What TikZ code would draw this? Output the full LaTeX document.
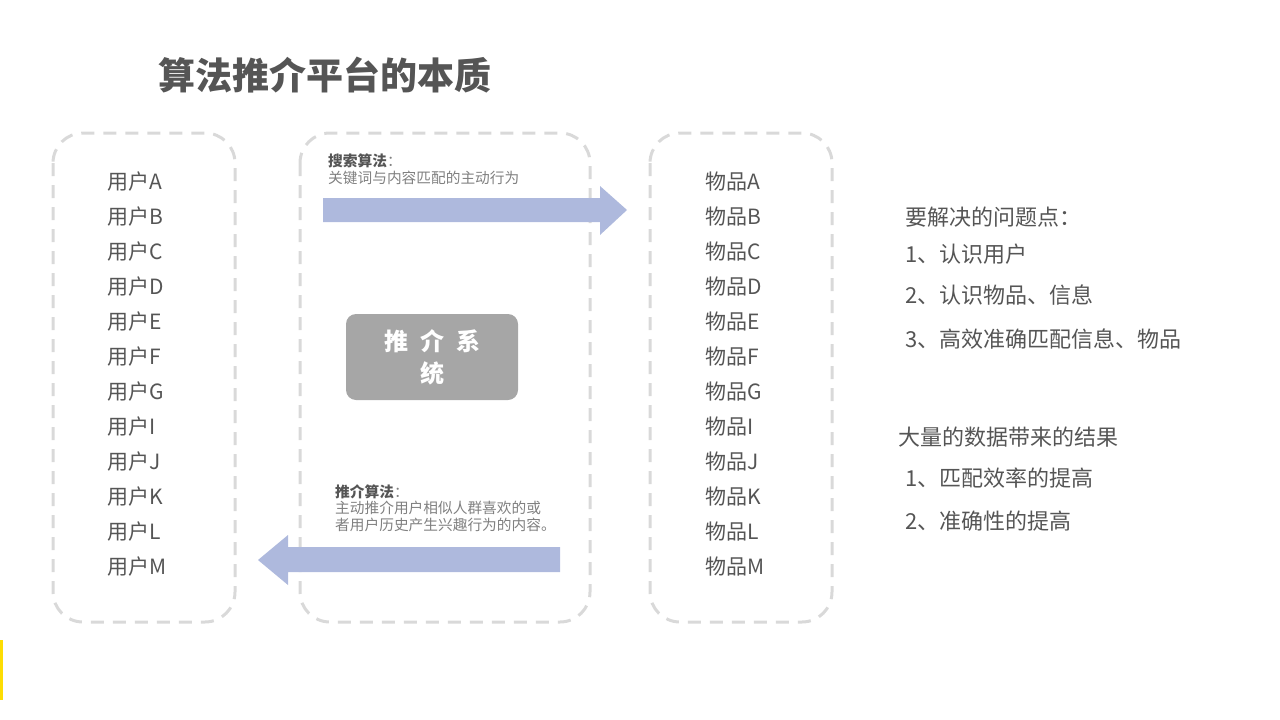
\documentclass[tikz,border=0pt]{standalone}
\usepackage{fontspec}
\setmainfont{Noto Sans CJK SC}
\usetikzlibrary{positioning}
\definecolor{txtgray}{HTML}{555555}
\definecolor{boxgray}{HTML}{D9D9D9}
\definecolor{arrowblue}{HTML}{AEB9DD}
\begin{document}
\begin{tikzpicture}[
    x=1pt, y=-1pt,
    panel/.style={
        draw=boxgray,
        line width=3pt,
        dash pattern=on 13pt off 9pt,
        rounded corners=30pt
    },
    item/.style={
        text=txtgray,
        font=\fontsize{21}{24}\selectfont,
        anchor=west,
        inner sep=0pt
    },
    note/.style={
        text=txtgray,
        font=\fontsize{22}{24}\selectfont,
        anchor=west,
        inner sep=0pt
    },
    hint/.style={
        text=gray,
        font=\fontsize{14.7}{16.5}\selectfont,
        anchor=north west,
        align=left,
        inner sep=0pt
    },
    flow/.style={
        fill=arrowblue
    }
]
\useasboundingbox (0,0) rectangle (1280,720);

% Titel
\node[text=txtgray, font=\fontsize{37}{40}\selectfont\bfseries, anchor=west, inner sep=0pt] (title) at (158,75) {算法推介平台的本质};

% Rahmen
\draw[panel] (53,133) rectangle (235,622);
\draw[panel] (300,133) rectangle (590,622);
\draw[panel] (650,133) rectangle (832,622);

% Nutzer und Artikel
\foreach \l [count=\i from 0] in {A,B,C,D,E,F,G,I,J,K,L,M} {
    \node[item] (user\l) at (107,182+35*\i) {用户\l};
    \node[item] (thing\l) at (705,182+35*\i) {物品\l};
}

% Pfeile
\fill[flow] (323,198) -- (600,198) -- (600,186) -- (627,210) -- (600,235) -- (600,222) -- (323,222) -- cycle;
\fill[flow] (560,547) -- (288,547) -- (288,535) -- (258,560) -- (288,585) -- (288,572) -- (560,572) -- cycle;

\node[hint] (search) at (328,154) {\textbf{\textcolor{txtgray}{搜索算法}}：\\关键词与内容匹配的主动行为};
\node[hint] (recommend) at (335,484) {\textbf{\textcolor{txtgray}{推介算法}}：\\主动推介用户相似人群喜欢的或\\者用户历史产生兴趣行为的内容。};

% System
\node[fill=black!35, rounded corners=10pt, minimum width=172pt, minimum height=86pt,
      text=white, font=\fontsize{24}{32}\selectfont\bfseries, align=center] (system) at (432,357) {推\enspace 介\enspace 系\\统};

% Rechte Seite
\node[note] (problems) at (905,217) {要解决的问题点：};
\node[note] (p1) at (905,254) {1、认识用户};
\node[note] (p2) at (905,295) {2、认识物品、信息};
\node[note] (p3) at (905,339) {3、高效准确匹配信息、物品};
\node[note] (result) at (898,437) {大量的数据带来的结果};
\node[note] (r1) at (905,478) {1、匹配效率的提高};
\node[note] (r2) at (905,521) {2、准确性的提高};

% gelber Rand
\fill[yellow!80!orange] (0,640) rectangle (3,700);
\end{tikzpicture}
\end{document}
